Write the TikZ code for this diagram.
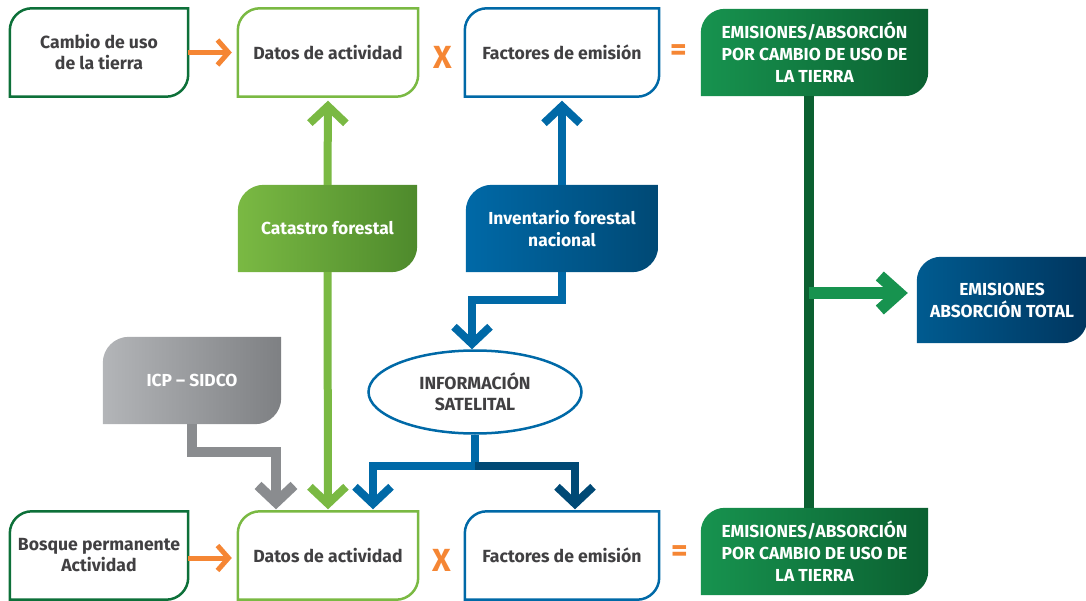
\documentclass[tikz,border=0pt]{standalone}
\usepackage{fontspec}
\setmainfont{Fira Sans}
\usetikzlibrary{arrows.meta,shapes.geometric,calc}
\pgfdeclarelayer{bg}\pgfsetlayers{bg,main}
\definecolor{txt}{HTML}{414042}
\definecolor{org}{HTML}{F58634}
\definecolor{lg1}{HTML}{7AB943}\definecolor{lg2}{HTML}{4E8A2C}
\definecolor{dg1}{HTML}{17934F}\definecolor{dg2}{HTML}{0B6031}
\definecolor{dgb}{HTML}{0D7039}
\definecolor{bl1}{HTML}{0069A7}\definecolor{bl2}{HTML}{004975}
\definecolor{gr1}{HTML}{B3B5B8}\definecolor{gr2}{HTML}{7E8083}
\definecolor{gra}{HTML}{8A8C8F}
\definecolor{tb1}{HTML}{005B90}\definecolor{tb2}{HTML}{00365F}
\newcommand\tlbr[3]{\path[#3] ([yshift=-#2pt]#1.north west) .. controls ([yshift=-0.45*#2pt]#1.north west) and ([xshift=0.45*#2pt]#1.north west) .. ([xshift=#2pt]#1.north west) -- (#1.north east) -- ([yshift=#2pt]#1.south east) .. controls ([yshift=0.45*#2pt]#1.south east) and ([xshift=-0.45*#2pt]#1.south east) .. ([xshift=-#2pt]#1.south east) -- (#1.south west) -- cycle;}
\tikzset{
  base/.style={align=center, text=txt, inner sep=0pt, font=\bfseries\fontsize{17.6}{21}\selectfont},
  wbase/.style={base, text=white, font=\bfseries\fontsize{17.4}{22}\selectfont},
  sym/.style={text=org, inner sep=0pt, font=\bfseries\fontsize{32}{32}\selectfont},
  oarr/.style={draw=org, line width=5pt, -{Straight Barb[length=11pt,width=25pt,sharp]}},
  varr/.style={line width=8pt, -{Straight Barb[length=17pt,width=36pt,sharp]}},
  harr/.style={line width=12pt, -{Straight Barb[length=19pt,width=34pt,sharp]}},
  frame/.style={draw=#1, line width=2.5pt, fill=white},
}
\begin{document}
\begin{tikzpicture}[x=1pt,y=-1pt]
\useasboundingbox (0,0) rectangle (1086,601);
% top row
\node[base, minimum width=178pt, minimum height=88pt] (cambio) at (99,52.5) {Cambio de uso\\de la tierra};
\node[base, minimum width=180pt, minimum height=88pt] (datosA) at (328,52.5) {Datos de actividad};
\node[sym] (xA) at (443,57) {X};
\node[base, minimum width=194pt, minimum height=88pt] (factA) at (562,52.5) {Factores de emisión};
\node[sym] (eqA) at (679,53) {=};
\node[wbase, minimum width=227pt, minimum height=87pt] (emisA) at (814.5,52.5) {EMISIONES/ABSORCIÓN\\POR CAMBIO DE USO DE\\LA TIERRA};
% middle
\node[wbase, minimum width=179pt, minimum height=87pt] (cat) at (327.5,228.5) {Catastro forestal};
\node[wbase, minimum width=192pt, minimum height=87pt] (inv) at (562,228.5) {Inventario forestal\\nacional};
\node[wbase, minimum width=170pt, minimum height=86pt] (total) at (1002,300) {EMISIONES\\ABSORCIÓN TOTAL};
\node[wbase, minimum width=178pt, minimum height=87pt] (icp) at (192,380.5) {ICP -- SIDCO};
\node[base, ellipse, draw=bl1, line width=2.5pt, fill=white, minimum width=213pt, minimum height=83pt] (ell) at (475,392) {INFORMACIÓN\\SATELITAL};
% bottom row
\node[base, minimum width=178pt, minimum height=88pt] (bosque) at (99,555.5) {Bosque permanente\\Actividad};
\node[base, minimum width=180pt, minimum height=88pt] (datosB) at (328,555.5) {Datos de actividad};
\node[sym] (xB) at (442,560) {X};
\node[base, minimum width=194pt, minimum height=88pt] (factB) at (562,555.5) {Factores de emisión};
\node[sym] (eqB) at (680,554) {=};
\node[wbase, minimum width=227pt, minimum height=87pt] (emisB) at (814.5,551.5) {EMISIONES/ABSORCIÓN\\POR CAMBIO DE USO DE\\LA TIERRA};
% shapes
\begin{pgfonlayer}{bg}
\tlbr{cambio}{22}{frame=dgb}
\tlbr{datosA}{22}{frame=lg1}
\tlbr{factA}{22}{frame=bl1}
\tlbr{emisA}{24}{left color=dg1, right color=dg2}
\tlbr{cat}{26}{left color=lg1, right color=lg2}
\tlbr{inv}{26}{left color=bl1, right color=bl2}
\tlbr{total}{24}{left color=tb1, right color=tb2}
\tlbr{icp}{26}{left color=gr1, right color=gr2}
\tlbr{bosque}{22}{frame=dgb}
\tlbr{datosB}{22}{frame=lg1}
\tlbr{factB}{22}{frame=bl1}
\tlbr{emisB}{24}{left color=dg1, right color=dg2}
\end{pgfonlayer}
% connectors
\draw[oarr, shorten >=6pt] (cambio) -- (datosA);
\draw[oarr, shorten >=6pt] ([yshift=-2.5pt]bosque.east) -- ([yshift=-2.5pt]datosB.west);
\draw[varr, draw=lg1, shorten >=4pt] (cat.north) -- (datosA.south);
\draw[varr, draw=lg1, shorten >=2pt] (cat.south) -- (datosB.north);
\draw[varr, draw=bl1, shorten >=4pt] (inv.north) -- (factA.south);
\draw[varr, draw=bl1] (inv.south) -- ++(0,28) -| ([xshift=-3pt]ell.north);
\draw[line width=8pt, draw=bl1] (ell.south) -- ++(0,31) coordinate (sp);
\draw[varr, draw=bl1, shorten >=2pt] (sp) -| ([xshift=45pt]datosB.north);
\draw[varr, draw=bl2, shorten >=2pt] (sp) -| ([xshift=13pt]factB.north);
\draw[varr, draw=gra, line width=10pt, shorten >=2pt] (icp.south) -- ++(0,28) -| ([xshift=-52pt]datosB.north);
\draw[line width=10pt, draw=dg2] ([xshift=-6pt]emisA.south) -- ([xshift=-6pt]emisB.north);
\draw[harr, draw=dg1] ($(emisA.south |- total.west)+(-6,-7)$) -- ($(total.west)+(-9,-7)$);
\end{tikzpicture}
\end{document}
